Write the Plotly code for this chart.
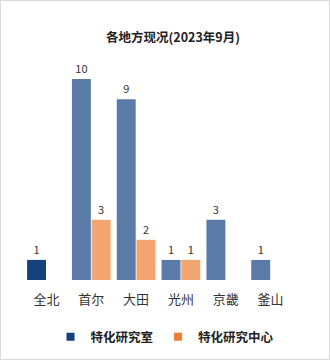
import plotly.graph_objects as go

categories = ["全北", "首尔", "大田", "光州", "京畿", "釜山"]
lab_values = [1, 10, 9, 1, 3, 1]
center_values = [None, 3, 2, 1, None, None]
series_names = ["特化研究室", "特化研究中心"]
title_text = "各地方现况(2023年9月)"

NAVY = "#15427a"
NAVY_SOFT = "#5a7ba7"
ORANGE = "#ed7d31"
ORANGE_SOFT = "#f2a56e"
FONT = "Noto Sans CJK SC, Noto Sans, sans-serif"

lab_colors = [NAVY if c == "全北" else NAVY_SOFT for c in categories]
center_colors = [ORANGE if c == "全北" else ORANGE_SOFT for c in categories]

def lbl(vals):
    return [("" if v is None else str(v)) for v in vals]

fig = go.Figure()
fig.add_trace(go.Bar(x=categories, y=lab_values, name=series_names[0],
                     marker=dict(color=lab_colors, line=dict(width=0)),
                     text=lbl(lab_values), textposition="outside", cliponaxis=False,
                     textfont=dict(size=11, color="#333333", family=FONT),
                     showlegend=False))
fig.add_trace(go.Bar(x=categories, y=center_values, name=series_names[1],
                     marker=dict(color=center_colors, line=dict(width=0)),
                     text=lbl(center_values), textposition="outside", cliponaxis=False,
                     textfont=dict(size=11, color="#333333", family=FONT),
                     showlegend=False))
# legend entries
fig.add_trace(go.Scatter(x=[None], y=[None], mode="markers", name=series_names[0],
                         marker=dict(symbol="square", size=8, color=NAVY)))
fig.add_trace(go.Scatter(x=[None], y=[None], mode="markers", name=series_names[1],
                         marker=dict(symbol="square", size=8, color=ORANGE)))

L, R, T, B = 24, 37, 59, 80
W, H = 330, 360
pw, ph = W - L - R, H - T - B

fig.update_layout(
    width=W, height=H,
    margin=dict(l=L, r=R, t=T, b=B, autoexpand=False),
    paper_bgcolor="white", plot_bgcolor="white",
    barmode="group", bargap=0.12, bargroupgap=0.04,
    font=dict(family=FONT, color="#333333"),
    title=dict(text="<b>" + title_text + "</b>", font=dict(size=12.5, color="#222222", family=FONT),
               xref="container", x=173 / W, xanchor="center",
               yref="container", y=1 - 38 / H, yanchor="middle"),
    xaxis=dict(showgrid=False, zeroline=False, showline=False,
               ticks="outside", ticklen=4, tickcolor="rgba(0,0,0,0)",
               ticklabelstandoff=3,
               tickfont=dict(size=13, color="#333333", family=FONT),
               fixedrange=True),
    yaxis=dict(visible=False, range=[0, 11], fixedrange=True),
    legend=dict(orientation="h", xref="paper", yref="paper",
                x=(165 - L) / pw, xanchor="center", y=(280 - 337) / ph, yanchor="middle",
                font=dict(size=12.5, color="#222222", family=FONT, weight="bold"),
                itemclick=False, itemdoubleclick=False),
    shapes=[dict(type="rect", xref="paper", yref="paper",
                 x0=(0.5 - L) / pw, x1=(W - 0.5 - L) / pw,
                 y0=(280 - (H - 0.5)) / ph, y1=(280 - 0.5) / ph,
                 line=dict(color="#d9d9d9", width=1), fillcolor="rgba(0,0,0,0)")],
)
fig.write_html("out.html", config={"displayModeBar": False})
